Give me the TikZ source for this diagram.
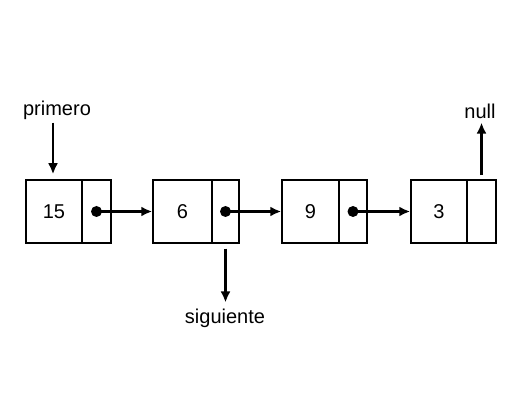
\documentclass[tikz,border=0pt]{standalone}
\usepackage{fontspec}
\setmainfont{Liberation Sans}
\usetikzlibrary{arrows.meta}

\begin{document}
\begin{tikzpicture}[x=1pt, y=-1pt, every node/.style={font=\fontsize{20}{23}\selectfont}]
            \useasboundingbox (0,0) rectangle (519,403);

            % Nodes
            \node[draw, line width=1.5pt, minimum width=56pt, minimum height=63pt, inner sep=0] (d1) at (54,211.5) {15};
            \node[draw, line width=1.5pt, minimum width=29pt, minimum height=63pt, inner sep=0] (p1) at (96.5,211.5) {};
            \node[draw, line width=1.5pt, minimum width=59pt, minimum height=63pt, inner sep=0] (d2) at (182.5,211.5) {6};
            \node[draw, line width=1.5pt, minimum width=27pt, minimum height=63pt, inner sep=0] (p2) at (225.5,211.5) {};
            \node[draw, line width=1.5pt, minimum width=57pt, minimum height=63pt, inner sep=0] (d3) at (310.5,211.5) {9};
            \node[draw, line width=1.5pt, minimum width=28pt, minimum height=63pt, inner sep=0] (p3) at (353,211.5) {};
            \node[draw, line width=1.5pt, minimum width=56pt, minimum height=63pt, inner sep=0] (d4) at (439,211.5) {3};
            \node[draw, line width=1.5pt, minimum width=29pt, minimum height=63pt, inner sep=0] (p4) at (481.5,211.5) {};

            % Dots
            \node[circle, fill, inner sep=0, minimum size=11pt] (c1) at (p1.center) {};
            \node[circle, fill, inner sep=0, minimum size=11pt] (c2) at (p2.center) {};
            \node[circle, fill, inner sep=0, minimum size=11pt] (c3) at (p3.center) {};

            % Labels
            \node[inner sep=0] (primero) at (57,110) {primero};
            \node[inner sep=0] (null) at (480,111) {null};
            \node[inner sep=0] (siguiente) at (225,318) {siguiente};

            % Lines
            \draw[line width=2.4pt, -{Latex[length=11pt,width=10pt]}] (c1.center) -- (d2.west);
            \draw[line width=2.4pt, -{Latex[length=11pt,width=10pt]}] (c2.center) -- (d3.west);
            \draw[line width=2.4pt, -{Latex[length=11pt,width=10pt]}] (c3.center) -- (d4.west);
            \draw[line width=2.4pt, -{Latex[length=11pt,width=10pt]}, shorten <=3pt, shorten >=5pt] (primero.south -| 53,0) -- (d1.north -| 53,0);
            \draw[line width=2.4pt, -{Latex[length=11pt,width=10pt]}, shorten <=4pt, shorten >=4pt] (p4.north) -- (null.south -| p4.north);
            \draw[line width=2.4pt, -{Latex[length=11pt,width=10pt]}, shorten <=5pt, shorten >=6pt] (p2.south) -- (siguiente.north -| p2.south);

        \end{tikzpicture}
\end{document}
